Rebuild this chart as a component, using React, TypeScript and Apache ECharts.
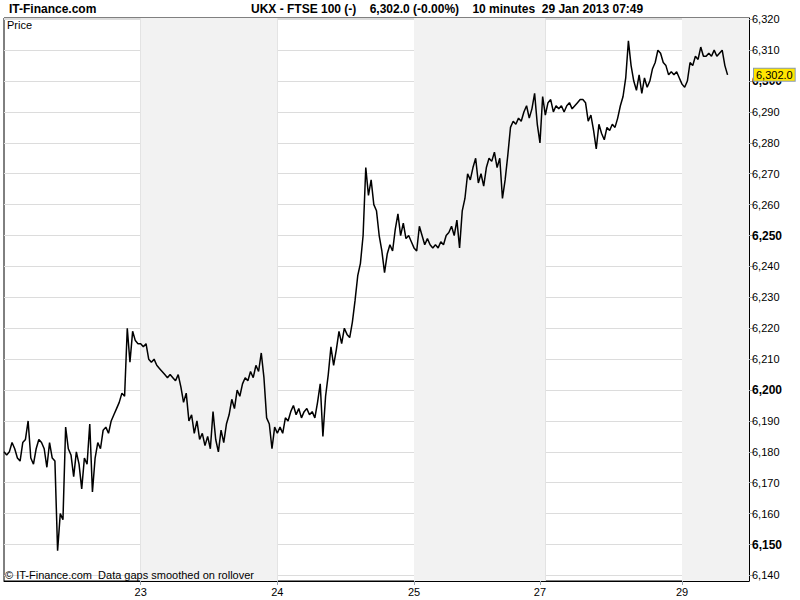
import React, { useEffect, useRef } from "react";
import * as echarts from "echarts";

// ---- data ----
const dayLabels = ["22", "23", "24", "25", "27", "28", "29"];
const dayBars = [51, 51, 51, 47, 2, 51, 26]; // 10-minute slots per day on the axis
const labelledDays = ["23", "24", "25", "27", "29"];
const shadedDays = ["23", "25", "27", "29"];

const jan22Prices = [6180, 6179, 6180, 6183, 6181, 6178, 6177, 6183, 6184, 6190, 6178, 6176, 6181, 6184, 6183, 6181, 6175, 6183, 6178, 6177, 6148, 6160, 6158, 6188, 6181, 6179, 6172, 6180, 6176, 6168, 6178, 6176, 6189, 6167, 6178, 6183, 6181, 6187, 6188, 6186, 6190, 6192, 6194, 6196, 6199, 6198, 6220, 6209, 6219, 6216, 6215];
const jan23Prices = [6215, 6214, 6215, 6210, 6209, 6210, 6208, 6207, 6206, 6205, 6204, 6205, 6204, 6203, 6205, 6201, 6196, 6199, 6190, 6192, 6186, 6190, 6184, 6186, 6182, 6185, 6181, 6193, 6184, 6180, 6187, 6183, 6189, 6192, 6197, 6194, 6200, 6198, 6202, 6204, 6203, 6206, 6204, 6208, 6206, 6212, 6204, 6191, 6189, 6181, 6188];
const jan24Prices = [6186, 6188, 6186, 6191, 6190, 6193, 6195, 6192, 6194, 6191, 6193, 6194, 6192, 6193, 6191, 6196, 6202, 6185, 6198, 6205, 6214, 6208, 6213, 6219, 6215, 6220, 6218, 6217, 6222, 6229, 6237, 6241, 6250, 6272, 6263, 6268, 6260, 6258, 6250, 6245, 6238, 6244, 6247, 6245, 6252, 6257, 6250, 6254, 6249, 6250, 6248];
const jan25Prices = [6246, 6245, 6253, 6250, 6247, 6249, 6247, 6246, 6247, 6246, 6248, 6247, 6250, 6251, 6253, 6250, 6255, 6246, 6258, 6262, 6270, 6268, 6272, 6275, 6267, 6270, 6266, 6272, 6275, 6274, 6277, 6272, 6275, 6262, 6268, 6276, 6285, 6287, 6286, 6288, 6287, 6290, 6292, 6288, 6291, 6296, 6286];
const jan27Prices = [6280, 6295];
const jan28Prices = [6289, 6293, 6294, 6290, 6292, 6291, 6292, 6290, 6292, 6293, 6291, 6292, 6293, 6294, 6294, 6293, 6287, 6289, 6284, 6278, 6286, 6283, 6281, 6285, 6284, 6286, 6285, 6288, 6292, 6295, 6301, 6313, 6305, 6300, 6297, 6302, 6296, 6301, 6298, 6300, 6304, 6306, 6310, 6309, 6306, 6305, 6302, 6303, 6302, 6303, 6301];
const jan29Prices = [6299, 6298, 6300, 6306, 6305, 6308, 6307, 6311, 6308, 6308, 6309, 6308, 6310, 6308, 6309, 6310, 6305, 6302];
const pricesByDay = [jan22Prices, jan23Prices, jan24Prices, jan25Prices, jan27Prices, jan28Prices, jan29Prices];

const lastPrice = 6302.0;
const yMin = 6138.2;
const yMax = 6320.4;

const FONT = "Liberation Sans";

export default function App() {
  const ref = useRef<HTMLDivElement>(null);

  useEffect(() => {
    if (!ref.current) return;
    const chart = echarts.init(ref.current, undefined, { renderer: "svg" });

    const categories: string[] = [];
    const values: (number | null)[] = [];
    const dayStart: number[] = [];
    dayLabels.forEach((d, di) => {
      dayStart.push(categories.length);
      for (let k = 0; k < dayBars[di]; k++) {
        categories.push(d + "|" + k);
        const p = pricesByDay[di][k];
        values.push(p === undefined ? null : p);
      }
    });
    const startSet = new Set(dayStart.slice(1));
    const labelSet = new Set(
      dayLabels.map((d, i) => (labelledDays.includes(d) ? dayStart[i] : -1))
    );

    const areas: any[] = [];
    dayLabels.forEach((d, i) => {
      if (!shadedDays.includes(d)) return;
      const a = categories[dayStart[i]];
      const bIdx = i + 1 < dayLabels.length ? dayStart[i + 1] : categories.length - 1;
      areas.push([{ xAxis: a }, { xAxis: categories[bIdx] }]);
    });

    const fmt = (v: number) => {
      const r = Math.round(v);
      const s = String(r);
      return s.slice(0, s.length - 3) + "," + s.slice(s.length - 3);
    };

    chart.setOption({
      animation: false,
      backgroundColor: "#ffffff",
      grid: {
        left: 4,
        right: 51,
        top: 18,
        bottom: 19,
        show: true,
        backgroundColor: "transparent",
        borderColor: "#000",
        borderWidth: 1,
        containLabel: false,
        outerBoundsMode: "none",
      },
      xAxis: {
        type: "category",
        data: categories,
        boundaryGap: false,
        axisLine: { show: true, lineStyle: { color: "#000", width: 1 } },
        axisTick: {
          show: true,
          length: 4,
          interval: (idx: number) => labelSet.has(idx),
          lineStyle: { color: "#9aa5b1" },
        },
        axisLabel: {
          interval: (idx: number) => labelSet.has(idx),
          formatter: (v: string) => v.split("|")[0],
          color: "#000",
          fontFamily: FONT,
          fontSize: 11,
          margin: 5,
        },
        splitLine: {
          show: true,
          interval: (idx: number) => startSet.has(idx),
          lineStyle: { color: "#dcdcdc", width: 1 },
        },
      },
      yAxis: {
        type: "value",
        position: "right",
        min: yMin,
        max: yMax,
        minInterval: 10,
        maxInterval: 10,
        splitNumber: 18,
        axisLine: { show: true, lineStyle: { color: "#000", width: 1 } },
        axisTick: { show: true, length: 4, lineStyle: { color: "#9aa5b1" } },
        axisLabel: {
          showMinLabel: false,
          showMaxLabel: false,
          margin: 3,
          color: "#000",
          fontFamily: FONT,
          fontSize: 11,
          formatter: (v: number) => {
            if (Math.abs(v - Math.round(v)) > 1e-6 || Math.round(v) % 10 !== 0) return "";
            const r = Math.round(v);
            return r % 50 === 0 ? "{b|" + fmt(r) + "}" : fmt(r);
          },
          rich: {
            b: { fontWeight: "bold", fontFamily: FONT, fontSize: 12, color: "#000" },
          },
        },
        splitLine: { show: true, lineStyle: { color: "#dcdcdc", width: 1 } },
      },
      series: [
        {
          type: "line",
          data: [],
          z: -1,
          silent: true,
          markArea: {
            silent: true,
            itemStyle: { color: "#f2f2f2" },
            data: areas,
          },
        },
        {
          type: "line",
          data: values,
          symbol: "none",
          connectNulls: false,
          lineStyle: { color: "#000", width: 1.5 },
          z: 3,
          markLine: {
            silent: true,
            symbol: ["none", "none"],
            lineStyle: { color: "rgba(0,0,0,0)", width: 1, type: "solid" },
            data: [{ yAxis: lastPrice }],
            label: {
              show: true,
              position: "end",
              distance: 5,
              formatter: () =>
                lastPrice.toLocaleString("en-US", { minimumFractionDigits: 1, maximumFractionDigits: 1 }),
              color: "#000",
              opacity: 1,
              fontFamily: FONT,
              fontSize: 11,
              backgroundColor: "#ffe600",
              borderColor: "#8a9bb0",
              borderWidth: 1,
              padding: [1, 2, 0, 2],
            },
          },
        },
      ],
      graphic: [
        { type: "text", x: 9, y: 9, z: 10, style: { text: "IT-Finance.com", font: `bold 12px "${FONT}"`, fill: "#000", verticalAlign: "middle" } },
        {
          type: "text",
          x: 251,
          y: 9,
          z: 10,
          style: {
            text: "UKX - FTSE 100 (-)    6,302.0 (-0.00%)    10 minutes  29 Jan 2013 07:49",
            font: `bold 12px "${FONT}"`,
            fill: "#000",
            verticalAlign: "middle",
          },
        },
        { type: "text", x: 7, y: 25, z: 10, style: { text: "Price", font: `11px "${FONT}"`, fill: "#000", verticalAlign: "middle" } },
        { type: "text", x: 5, y: 575, z: 10, style: { text: "© IT-Finance.com  Data gaps smoothed on rollover", font: `11px "${FONT}"`, fill: "#000", verticalAlign: "middle" } },
      ],
    });

    return () => chart.dispose();
  }, []);

  return (
    <div
      ref={ref}
      style={{ position: "fixed", left: 0, top: 0, width: 800, height: 600 }}
    />
  );
}
